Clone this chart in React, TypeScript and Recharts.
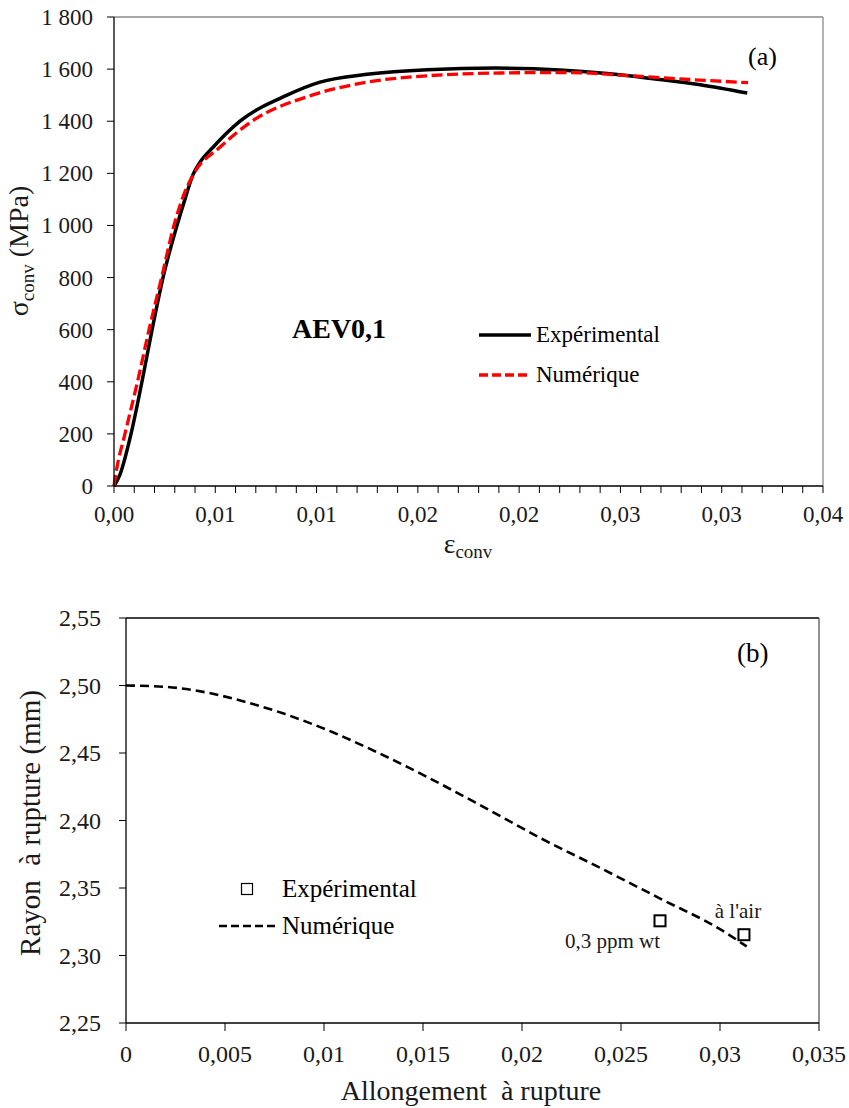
import React from 'react';
import {
  LineChart,
  ComposedChart,
  Line,
  Scatter,
  XAxis,
  YAxis,
  ReferenceLine,
  Legend
} from 'recharts';

const FONT = '"Liberation Serif", "Times New Roman", serif';

// (a) courbe de traction conventionnelle
const expStrain = [0, 0.0003, 0.00084, 0.00138, 0.00188, 0.00242, 0.00311, 0.0035, 0.0039, 0.00425, 0.00489, 0.00622, 0.00854, 0.01017, 0.01249, 0.01546, 0.01881, 0.022, 0.02434, 0.02662, 0.02894, 0.03126];
const expStress = [0, 45, 200, 400, 600, 800, 1000, 1100, 1195, 1243, 1300, 1400, 1500, 1550, 1580, 1598, 1604, 1597, 1583, 1563, 1540, 1508];
const numStrain = [0, 0.00012, 0.00054, 0.00116, 0.00173, 0.00235, 0.00296, 0.00336, 0.00395, 0.00523, 0.00681, 0.00978, 0.01249, 0.0156, 0.0191, 0.0225, 0.025, 0.0266, 0.0289, 0.0313];
const numStress = [0, 60, 200, 400, 600, 800, 1000, 1100, 1200, 1300, 1400, 1500, 1550, 1575, 1585, 1587, 1577, 1569, 1558, 1548];
const seriesNamesA = ['Expérimental', 'Numérique'];

const topXTicks = [0, 0.005, 0.01, 0.015, 0.02, 0.025, 0.03, 0.035];
const topXTickLabels = ['0,00', '0,01', '0,01', '0,02', '0,02', '0,03', '0,03', '0,04'];
const topYTicks = [0, 200, 400, 600, 800, 1000, 1200, 1400, 1600, 1800];
const topYTickLabels = ['0', '200', '400', '600', '800', '1 000', '1 200', '1 400', '1 600', '1 800'];

// (b) rayon à rupture
const ruptStrain = [0, 0.002, 0.004, 0.006, 0.008, 0.0105, 0.0125, 0.015, 0.018, 0.021, 0.024, 0.027, 0.03, 0.03135];
const ruptRadius = [2.5, 2.499, 2.495, 2.488, 2.479, 2.465, 2.4518, 2.4338, 2.4105, 2.3865, 2.3645, 2.342, 2.3195, 2.3067];
const testStrain = [0.02697, 0.03121];
const testRadius = [2.3257, 2.3154];
const testLabels = ['0,3 ppm wt', "à l'air"];
const seriesNamesB = ['Expérimental', 'Numérique'];

const botXTicks = [0, 0.005, 0.01, 0.015, 0.02, 0.025, 0.03, 0.035];
const botXTickLabels = ['0', '0,005', '0,01', '0,015', '0,02', '0,025', '0,03', '0,035'];
const botYTicks = [2.25, 2.3, 2.35, 2.4, 2.45, 2.5, 2.55];
const botYTickLabels = ['2,25', '2,30', '2,35', '2,40', '2,45', '2,50', '2,55'];

const expData = expStrain.map((x, i) => ({ x, y: expStress[i] }));
const numData = numStrain.map((x, i) => ({ x, y: numStress[i] }));
const ruptData = ruptStrain.map((x, i) => ({ x, y: ruptRadius[i] }));
const testData = testStrain.map((x, i) => ({ x, y: testRadius[i], label: testLabels[i] }));

// graduations secondaires tous les 0,001
const topXMinor: number[] = [];
for (let i = 0; i <= 35; i++) topXMinor.push(i / 1000);

const TICK_COLOR = '#1a1a1a';

const findLabel = (ticks: number[], labels: string[], v: number) => {
  const i = ticks.findIndex(t => Math.abs(t - v) < 1e-9);
  return i < 0 ? null : labels[i];
};

const TopXTick = (props: any) => {
  const { x, y, payload } = props;
  const label = findLabel(topXTicks, topXTickLabels, payload.value);
  if (label == null) return <g />;
  return (
    <text x={x} y={y} dy={27} textAnchor="middle" fontFamily={FONT} fontSize={23} fill={TICK_COLOR}>
      {label}
    </text>
  );
};

const TopYTick = (props: any) => {
  const { x, y, payload } = props;
  return (
    <text x={x} y={y} dy={8} textAnchor="end" fontFamily={FONT} fontSize={23} fill={TICK_COLOR}>
      {findLabel(topYTicks, topYTickLabels, payload.value)}
    </text>
  );
};

const BotXTick = (props: any) => {
  const { x, y, payload } = props;
  return (
    <text x={x} y={y} dy={29} textAnchor="middle" fontFamily={FONT} fontSize={24} fill={TICK_COLOR}>
      {findLabel(botXTicks, botXTickLabels, payload.value)}
    </text>
  );
};

const BotYTick = (props: any) => {
  const { x, y, payload } = props;
  return (
    <text x={x} y={y} dy={8} textAnchor="end" fontFamily={FONT} fontSize={24} fill={TICK_COLOR}>
      {findLabel(botYTicks, botYTickLabels, payload.value)}
    </text>
  );
};

const labelPlacement = [
  { dx: 0, dy: 27, anchor: 'end' },
  { dx: -6, dy: -17, anchor: 'middle' }
];

const SquareMarker = (props: any) => {
  const { cx, cy, payload } = props;
  const i = testLabels.indexOf(payload?.label);
  const p = labelPlacement[i] || labelPlacement[0];
  return (
    <g>
      <rect x={cx - 5.5} y={cy - 5.5} width={11} height={11} fill="#fff" stroke="#000" strokeWidth={2} />
      <text x={cx + p.dx} y={cy + p.dy} textAnchor={p.anchor as any} fontFamily={FONT} fontSize={21} fill={TICK_COLOR}>
        {payload?.label}
      </text>
    </g>
  );
};

const TopLegend = () => (
  <div style={{ fontFamily: FONT, fontSize: 23, color: '#000' }}>
    {seriesNamesA.map((name, i) => (
      <div key={name} style={{ display: 'flex', alignItems: 'center', height: 40 }}>
        <svg width={57} height={10}>
          <line
            x1={0}
            x2={52}
            y1={5}
            y2={5}
            stroke={i === 0 ? '#000' : '#ff0000'}
            strokeWidth={3.5}
            strokeDasharray={i === 0 ? undefined : '9 4'}
          />
        </svg>
        <span>{name}</span>
      </div>
    ))}
  </div>
);

const BottomLegend = () => (
  <div style={{ fontFamily: FONT, fontSize: 25, color: '#000' }}>
    {seriesNamesB.map((name, i) => (
      <div key={name} style={{ display: 'flex', alignItems: 'center', height: 37 }}>
        <svg width={63} height={14}>
          {i === 0 ? (
            <rect x={22.5} y={1.5} width={11} height={11} fill="#fff" stroke="#000" strokeWidth={1.2} />
          ) : (
            <line x1={0} x2={57} y1={7} y2={7} stroke="#000" strokeWidth={2.5} strokeDasharray="8 4" />
          )}
        </svg>
        <span>{name}</span>
      </div>
    ))}
  </div>
);

const App = () => {
  return (
    <div
      style={{
        position: 'absolute',
        left: 0,
        top: 0,
        width: 849,
        height: 1108,
        background: '#fff',
        fontFamily: FONT
      }}
    >
      <div style={{ position: 'absolute', left: 0, top: 0 }}>
        <LineChart width={849} height={580} margin={{ top: 17, right: 26, left: 0, bottom: 0 }}>
          <XAxis
            dataKey="x"
            type="number"
            domain={[0, 0.035]}
            ticks={topXMinor}
            interval={0}
            height={94}
            tickSize={7}
            axisLine={{ stroke: '#000', strokeWidth: 1.3 }}
            tickLine={{ stroke: '#000', strokeWidth: 1 }}
            tick={<TopXTick />}
          />
          <YAxis
            type="number"
            domain={[0, 1800]}
            ticks={topYTicks}
            interval={0}
            width={114}
            tickSize={7}
            tickMargin={14}
            axisLine={{ stroke: '#000', strokeWidth: 1.3 }}
            tickLine={{ stroke: '#000', strokeWidth: 1 }}
            tick={<TopYTick />}
          />
          <ReferenceLine y={1800} stroke="#8a8a8a" strokeWidth={1.3} />
          <ReferenceLine x={0.035} stroke="#8a8a8a" strokeWidth={1.3} />
          <Line
            data={expData}
            dataKey="y"
            name={seriesNamesA[0]}
            type="monotone"
            stroke="#000"
            strokeWidth={3.5}
            dot={false}
            activeDot={false}
            isAnimationActive={false}
          />
          <Line
            data={numData}
            dataKey="y"
            name={seriesNamesA[1]}
            type="monotone"
            stroke="#ff0000"
            strokeWidth={3.3}
            strokeDasharray="11 4.5"
            dot={false}
            activeDot={false}
            isAnimationActive={false}
          />
          <Legend
            layout="vertical"
            align="center"
            verticalAlign="middle"
            content={<TopLegend />}
            wrapperStyle={{ left: 479, top: 315, width: 260, height: 80 }}
          />
          <text
            x={28}
            y={251}
            transform="rotate(-90, 28, 251)"
            textAnchor="middle"
            fontFamily={FONT}
            fontSize={28}
            fill={TICK_COLOR}
          >
            <tspan>σ</tspan>
            <tspan fontSize={19} dy={6}>conv</tspan>
            <tspan dy={-6}> (MPa)</tspan>
          </text>
          <text x={468} y={553} textAnchor="middle" fontFamily={FONT} fontSize={28} fill={TICK_COLOR}>
            <tspan>ε</tspan>
            <tspan fontSize={19} dy={5}>conv</tspan>
          </text>
          <text x={292} y={338} fontFamily={FONT} fontSize={28} fontWeight="bold" fill="#000">
            AEV0,1
          </text>
          <text x={748} y={65} fontFamily={FONT} fontSize={26} fill="#000">
            (a)
          </text>
        </LineChart>
      </div>

      <div style={{ position: 'absolute', left: 0, top: 580 }}>
        <ComposedChart width={849} height={528} margin={{ top: 38, right: 30, left: 0, bottom: 0 }}>
          <XAxis
            dataKey="x"
            type="number"
            domain={[0, 0.035]}
            ticks={botXTicks}
            interval={0}
            height={85}
            tickSize={8}
            axisLine={{ stroke: '#000', strokeWidth: 1.3 }}
            tickLine={{ stroke: '#000', strokeWidth: 1 }}
            tick={<BotXTick />}
          />
          <YAxis
            type="number"
            domain={[2.25, 2.55]}
            ticks={botYTicks}
            interval={0}
            width={126}
            tickSize={7}
            tickMargin={18}
            axisLine={{ stroke: '#000', strokeWidth: 1.3 }}
            tickLine={{ stroke: '#000', strokeWidth: 1 }}
            tick={<BotYTick />}
          />
          <ReferenceLine y={2.55} stroke="#000" strokeWidth={1.3} />
          <ReferenceLine x={0.035} stroke="#555" strokeWidth={1.3} />
          <Line
            data={ruptData}
            dataKey="y"
            name={seriesNamesB[1]}
            type="monotone"
            stroke="#000"
            strokeWidth={2.6}
            strokeDasharray="9 5"
            dot={false}
            activeDot={false}
            isAnimationActive={false}
          />
          <Scatter
            data={testData}
            dataKey="y"
            name={seriesNamesB[0]}
            shape={<SquareMarker />}
            isAnimationActive={false}
          />
          <Legend
            layout="vertical"
            align="center"
            verticalAlign="middle"
            content={<BottomLegend />}
            wrapperStyle={{ left: 219, top: 290, width: 260, height: 74 }}
          />
          <text
            x={40}
            y={243}
            transform="rotate(-90, 40, 243)"
            textAnchor="middle"
            fontFamily={FONT}
            fontSize={29}
            fill={TICK_COLOR}
            style={{ whiteSpace: 'pre' }}
          >
            Rayon  à rupture (mm)
          </text>
          <text x={471} y={520} textAnchor="middle" fontFamily={FONT} fontSize={28} fill={TICK_COLOR} style={{ whiteSpace: 'pre' }}>
            Allongement  à rupture
          </text>
          <text x={737} y={82} fontFamily={FONT} fontSize={27} fill="#000">
            (b)
          </text>
        </ComposedChart>
      </div>
    </div>
  );
};

export default App;
